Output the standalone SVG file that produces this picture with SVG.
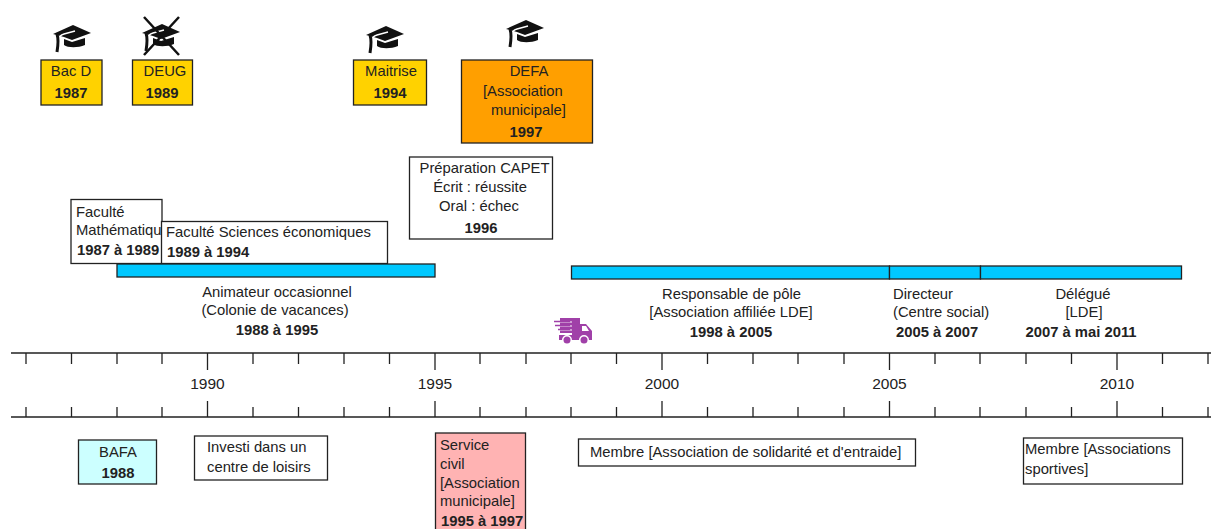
<svg xmlns="http://www.w3.org/2000/svg" width="1211" height="529" viewBox="0 0 1211 529">
<style>
text{font-family:"Liberation Sans",Arial,sans-serif;font-size:14.8px;fill:#222}
.c{text-anchor:middle}
.b{font-weight:bold}
.y{font-size:15.500px;fill:#222}
.box{stroke:#222;stroke-width:1.3}
.w{fill:#fff}.g{fill:#ffd200}.o{fill:#ff9f00}.p{fill:#ffb3b3}.l{fill:#ccffff}.t{fill:#00c8ff}
.ax{stroke:#222;stroke-width:1.3;fill:none}
</style>
<defs>
<g id="cap">
<path fill="#111" d="M-19,-4 L1,-13 L19,-5 L0,2 L-8,-1 Z"/>
<path fill="#111" d="M-8,1 L0,4 L13,0 L13,7 C6,10 -4,10 -8,7 Z"/>
<path fill="none" stroke="#fff" stroke-width="1.300" d="M3,-7 L-8,-4 C-12,-3 -13,-1 -13,2"/>
<path fill="none" stroke="#111" stroke-width="3" d="M-15,-4 C-13,2 -14,8 -15,14"/>
</g>
</defs>
<g id="connectors">
<path class="ax" d="M11,353H1211M11,417H1211"/>
<path class="ax" d="M26,353v11M71.500,353v11M117,353v11M162,353v11M207.500,353v17M253,353v11M298.500,353v11M344,353v11M389.500,353v11M435,353v17M480,353v11M526,353v11M571,353v11M616.500,353v11M662,353v17M707.500,353v11M753,353v11M798,353v11M844,353v11M889.500,353v17M935,353v11M980,353v11M1026,353v11M1071.500,353v11M1117,353v17M1162.500,353v11M1208,353v11"/>
<path class="ax" d="M26,417v-10M71.500,417v-10M117,417v-10M162,417v-10M207.500,417v-16M253,417v-10M298.500,417v-10M344,417v-10M389.500,417v-10M435,417v-16M480,417v-10M526,417v-10M571,417v-10M616.500,417v-10M662,417v-16M707.500,417v-10M753,417v-10M798,417v-10M844,417v-10M889.500,417v-16M935,417v-10M980,417v-10M1026,417v-10M1071.500,417v-10M1117,417v-16M1162.500,417v-10M1208,417v-10"/>
</g>
<g id="years">
<text class="c y" x="207.500" y="389">1990</text>
<text class="c y" x="435" y="389">1995</text>
<text class="c y" x="662" y="389">2000</text>
<text class="c y" x="889.500" y="389">2005</text>
<text class="c y" x="1117" y="389">2010</text>
</g>
<g id="cap-bac"><use href="#cap" x="72" y="38"/></g>
<g id="cap-deug"><use href="#cap" x="161" y="37"/><path d="M144,17L179,55M179,17L144,55" stroke="#111" stroke-width="2.500" fill="none"/></g>
<g id="cap-maitrise"><use href="#cap" x="385" y="39"/></g>
<g id="cap-defa"><use href="#cap" x="525" y="33"/></g>
<g id="bac"><rect class="box g" x="41" y="60" width="61" height="45"/><text class="c" x="71" y="76">Bac D</text><text class="c b" x="71" y="98">1987</text></g>
<g id="deug"><rect class="box g" x="132.500" y="60" width="60" height="45"/><text class="c" x="165" y="76">DEUG</text><text class="c b" x="162" y="98">1989</text></g>
<g id="maitrise"><rect class="box g" x="353.500" y="60" width="73" height="45"/><text class="c" x="391" y="76">Maitrise</text><text class="c b" x="390" y="98">1994</text></g>
<g id="defa"><rect class="box o" x="461.500" y="60" width="131" height="83"/><text class="c" x="529" y="76">DEFA</text><text x="483" y="96">[Association</text><text x="491" y="115">municipale]</text><text class="c b" x="526" y="137">1997</text></g>
<g id="capet"><rect class="box w" x="409.500" y="157" width="143" height="82"/><text class="c" x="484.500" y="173">Préparation CAPET</text><text class="c" x="480" y="192">Écrit : réussite</text><text class="c" x="479" y="211">Oral : échec</text><text class="c b" x="481" y="233">1996</text></g>
<g id="fac-maths"><rect class="box w" x="71" y="199.500" width="91" height="64"/><text x="76" y="217">Faculté</text><text x="76" y="235">Mathématiqu</text><text class="b" x="77" y="255">1987 à 1989</text></g>
<g id="fac-eco"><rect class="box w" x="161.500" y="221.500" width="226" height="42"/><text x="166" y="237">Faculté Sciences économiques</text><text class="b" x="167" y="257">1989 à 1994</text></g>
<g id="bar-animateur"><rect class="box t" x="117" y="264" width="318" height="13"/></g>
<g id="animateur"><text class="c" x="277" y="297">Animateur occasionnel</text><text class="c" x="275" y="315">(Colonie de vacances)</text><text class="c b" x="277" y="335">1988 à 1995</text></g>
<g id="bar-responsable"><rect class="box t" x="571.500" y="266" width="318" height="13"/></g>
<g id="bar-directeur"><rect class="box t" x="889.500" y="266" width="91" height="13"/></g>
<g id="bar-delegue"><rect class="box t" x="980.500" y="266" width="201" height="13"/></g>
<g id="responsable"><text class="c" x="731.500" y="299">Responsable de pôle</text><text class="c" x="731" y="317">[Association affiliée LDE]</text><text class="c b" x="731" y="337">1998 à 2005</text></g>
<g id="directeur"><text x="893" y="299">Directeur</text><text x="893" y="317">(Centre social)</text><text class="b" x="896" y="337">2005 à 2007</text></g>
<g id="delegue"><text class="c" x="1083" y="299">Délégué</text><text class="c" x="1084" y="317">[LDE]</text><text class="c b" x="1081" y="337">2007 à mai 2011</text></g>
<g id="truck" fill="#a040a8"><path d="M560,318H580V324H586L592,331V340H589A5,5 0 0 0 579,340H572A5,5 0 0 0 562,340H559V335H572V333H560Z"/><path d="M582,326V331H589L586,326Z" fill="#fff"/><circle cx="567" cy="340" r="3.500"/><circle cx="584" cy="340" r="3.500"/><path d="M555,322H572M555,326H572M558,330H572" stroke="#fff" stroke-width="1"/><path d="M554,321.500H570M555,325.500H570M558,329.500H570" stroke="#a040a8" stroke-width="1.500" fill="none"/></g>
<g id="bafa"><rect class="box l" x="78.500" y="440" width="78" height="44"/><text class="c" x="118" y="457">BAFA</text><text class="c b" x="118" y="478">1988</text></g>
<g id="investi"><rect class="box w" x="194.500" y="436" width="133" height="44"/><text x="207" y="452">Investi dans un</text><text x="207" y="472">centre de loisirs</text></g>
<g id="service"><rect class="box p" x="435.500" y="433" width="90" height="100"/><text x="440" y="450">Service</text><text x="440" y="469">civil</text><text x="440" y="488">[Association</text><text x="440" y="506">municipale]</text><text class="b" x="441" y="526">1995 à 1997</text></g>
<g id="membre-solidarite"><rect class="box w" x="578.500" y="439" width="337" height="27"/><text x="590" y="457">Membre [Association de solidarité et d'entraide]</text></g>
<g id="membre-sport"><rect class="box w" x="1023.500" y="438" width="159" height="46"/><text x="1025" y="454">Membre [Associations</text><text x="1025" y="474">sportives]</text></g>
</svg>
